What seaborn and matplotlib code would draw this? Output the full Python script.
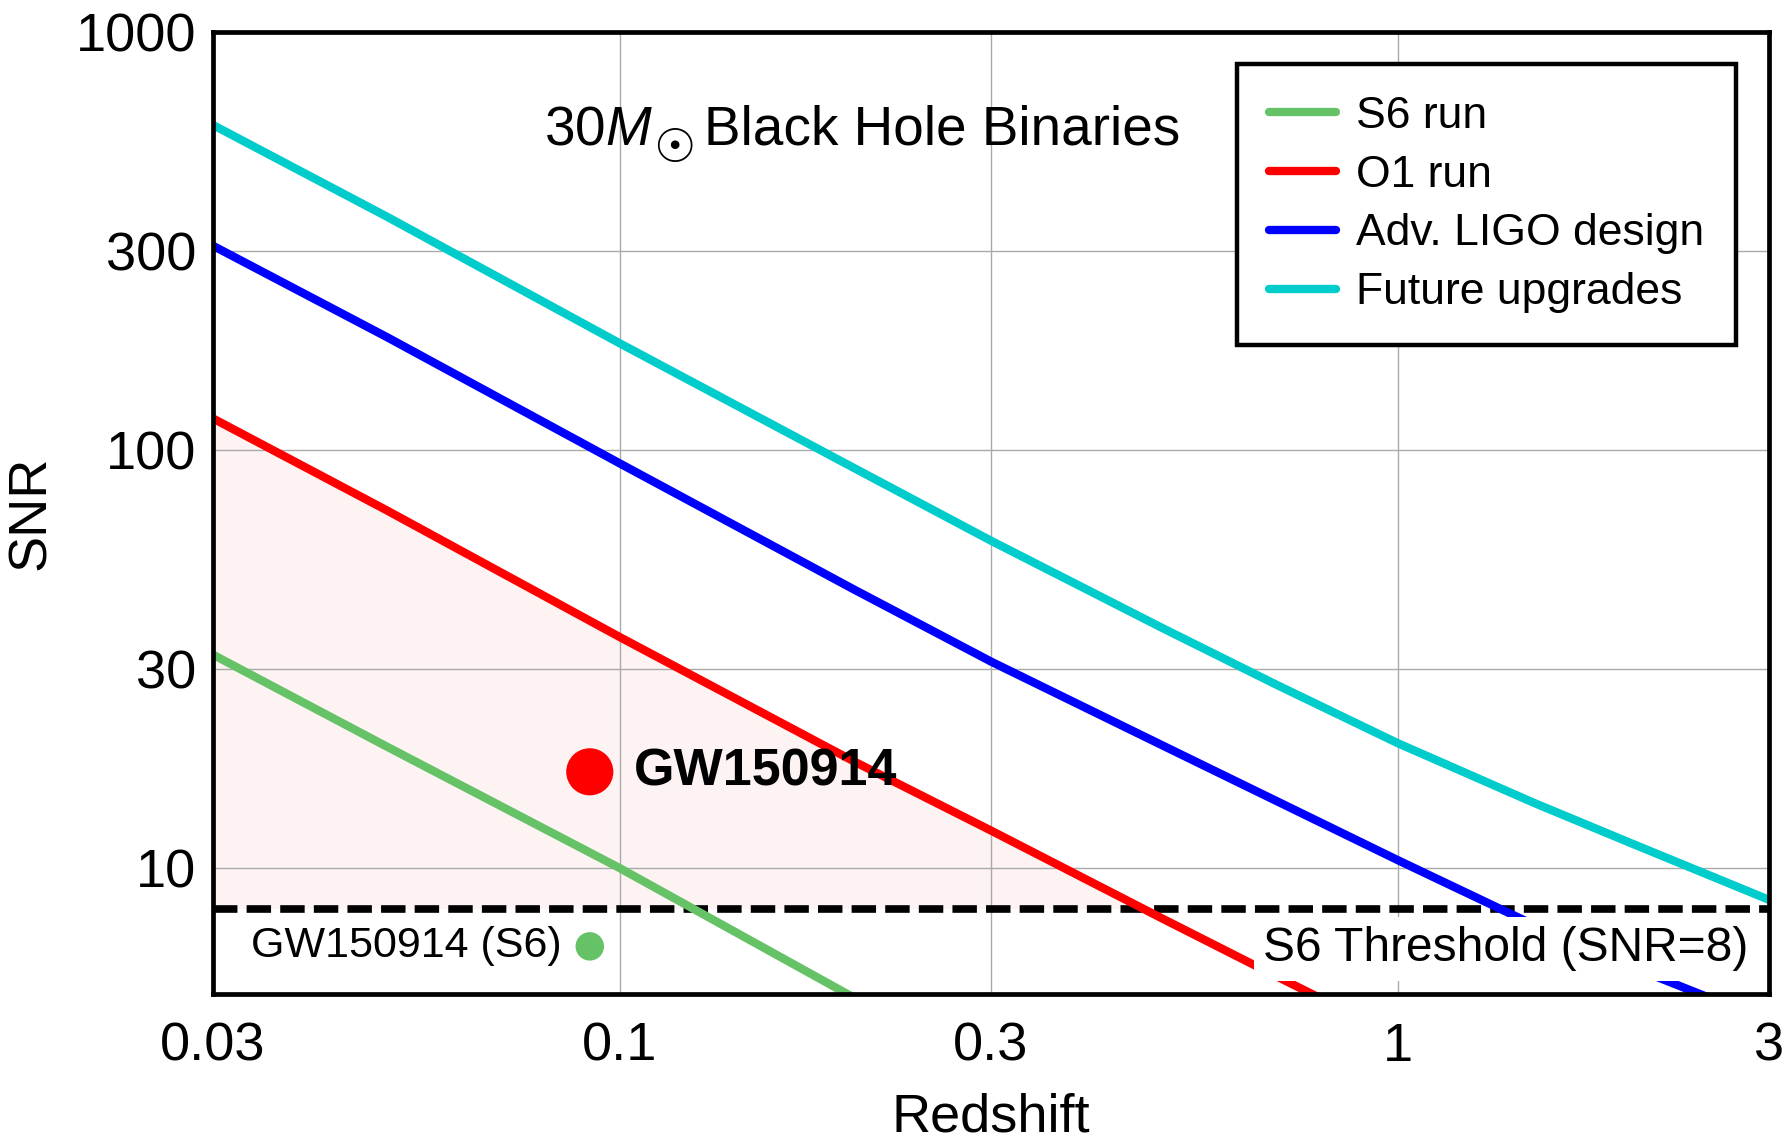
import matplotlib
matplotlib.use("Agg")
import matplotlib.pyplot as plt
import pandas as pd
import seaborn as sns

# SNR of a 30 Msun black hole binary versus redshift for each sensitivity curve
z_s6 = [0.03, 0.05, 0.1, 0.2, 0.3]
snr_s6 = [32.4, 19.6, 10.0, 4.9, 3.3]

z_o1 = [0.03, 0.05, 0.1, 0.2, 0.3, 0.5, 0.7, 1.0]
snr_o1 = [119.0, 72.0, 35.7, 18.0, 12.3, 7.55, 5.5, 3.95]

z_aligo = [0.03, 0.05, 0.1, 0.2, 0.3, 0.5, 1.0, 1.5, 2.0, 3.0]
snr_aligo = [308.0, 187.0, 92.9, 46.4, 31.2, 19.6, 10.45, 7.3, 5.8, 4.3]

z_future = [0.03, 0.05, 0.1, 0.2, 0.3, 0.5, 0.7, 1.0, 1.5, 2.0, 3.0]
snr_future = [599.0, 363.0, 180.0, 90.6, 60.7, 37.4, 27.4, 19.9, 14.3, 11.45, 8.4]

series_names = ["S6 run", "O1 run", "Adv. LIGO design", "Future upgrades"]
series_colors = ["#66c266", "#ff0000", "#0000ff", "#00cccc"]

# GW150914 as seen with O1 and as it would have been seen in S6
gw_z = 0.0915
gw_snr_o1 = 17.0
gw_snr_s6 = 6.5

threshold = 8.0

x_ticks = [0.03, 0.1, 0.3, 1, 3]
x_tick_labels = ["0.03", "0.1", "0.3", "1", "3"]
y_ticks = [10, 30, 100, 300, 1000]
y_tick_labels = ["10", "30", "100", "300", "1000"]

frames = []
for name, zs, snrs in zip(series_names,
                          [z_s6, z_o1, z_aligo, z_future],
                          [snr_s6, snr_o1, snr_aligo, snr_future]):
    frames.append(pd.DataFrame({"Redshift": zs, "SNR": snrs, "run": name}))
df = pd.concat(frames, ignore_index=True)

sns.set_theme(style="white")
plt.rcParams["font.family"] = ["Liberation Sans", "DejaVu Sans"]
plt.rcParams["mathtext.fontset"] = "custom"
plt.rcParams["mathtext.rm"] = "Liberation Sans"
plt.rcParams["mathtext.it"] = "Liberation Sans:italic"
plt.rcParams["mathtext.bf"] = "Liberation Sans:bold"
plt.rcParams["text.color"] = "black"
plt.rcParams["axes.labelcolor"] = "black"
plt.rcParams["xtick.color"] = "black"
plt.rcParams["ytick.color"] = "black"

fig = plt.figure(figsize=(17.87, 11.42), dpi=100)
ax = fig.add_axes([0.1192, 0.1296, 0.8707, 0.8424])

ax.set_xscale("log")
ax.set_yscale("log")
ax.set_xlim(0.03, 3)
ax.set_ylim(5, 1000)

# detectable region for O1 (between the O1 curve and the threshold)
ax.fill_between(z_o1, snr_o1, threshold,
                where=[s >= threshold for s in snr_o1], interpolate=True,
                color="#fdf3f3", linewidth=0, zorder=0.5)

ax.axhline(threshold, color="black", lw=5.5, dashes=(3.2, 1.2), zorder=1.5)

sns.lineplot(data=df, x="Redshift", y="SNR", hue="run",
             hue_order=series_names,
             palette=dict(zip(series_names, series_colors)),
             estimator=None, sort=True, linewidth=6, ax=ax, zorder=2)

sns.scatterplot(x=[gw_z], y=[gw_snr_o1], color="#ff0000", s=1150,
                edgecolor="none", legend=False, ax=ax, zorder=4)
sns.scatterplot(x=[gw_z], y=[gw_snr_s6], color="#66c266", s=420,
                edgecolor="none", legend=False, ax=ax, zorder=4)

ax.annotate("GW150914", xy=(gw_z, gw_snr_o1), xytext=(32, 0),
            textcoords="offset points", ha="left", va="center",
            fontsize=37.5, fontweight="bold", zorder=5)
ax.annotate("GW150914 (S6)", xy=(gw_z, gw_snr_s6), xytext=(-20, 0),
            textcoords="offset points", ha="right", va="center",
            fontsize=31, zorder=5)
ax.text(0.987, 0.047, "S6 Threshold (SNR=8)", transform=ax.transAxes,
        ha="right", va="center", fontsize=34.5, zorder=3,
        bbox=dict(boxstyle="square,pad=0.2", facecolor="white",
                  edgecolor="none"))

# heading: 30 M_sun Black Hole Binaries, with a full-size solar symbol
fig.text(0.3654, 0.8733, r"30$M$", ha="right", va="baseline", fontsize=39.5)
fig.text(0.3772, 0.8690, "\u2609", ha="center", va="center", fontsize=34,
         family="DejaVu Sans")
fig.text(0.3940, 0.8733, "Black Hole Binaries", ha="left", va="baseline",
         fontsize=39.5)

ax.set_xticks(x_ticks)
ax.set_xticklabels(x_tick_labels)
ax.set_yticks(y_ticks)
ax.set_yticklabels(y_tick_labels)
ax.minorticks_off()
ax.tick_params(axis="both", which="major", direction="in", length=9,
               width=2.5, color="black", labelsize=39, labelcolor="black")
ax.tick_params(axis="x", pad=20)
ax.tick_params(axis="y", pad=12)
ax.grid(True, which="major", color="#aaaaaa", linewidth=1.0, zorder=0)
ax.set_axisbelow(True)

for spine in ax.spines.values():
    spine.set_linewidth(3.4)
    spine.set_color("black")
    spine.set_zorder(6)

ax.set_xlabel("Redshift", fontsize=39, labelpad=15, color="black")
ax.set_ylabel("SNR", fontsize=39, labelpad=14, color="black")

leg = ax.legend(loc="upper right", bbox_to_anchor=(0.979, 0.967),
                borderaxespad=0, fontsize=32, frameon=True, fancybox=False,
                handlelength=1.5, handletextpad=0.45, labelspacing=0.4,
                borderpad=0.72)
leg.get_frame().set_edgecolor("black")
leg.get_frame().set_linewidth(3.2)
leg.get_frame().set_facecolor("white")
leg.get_frame().set_alpha(1)
leg.set_zorder(7)
for line in leg.get_lines():
    line.set_linewidth(6)
for t in leg.get_texts():
    t.set_color("black")

fig.savefig("out.png", dpi=100, facecolor="white")
